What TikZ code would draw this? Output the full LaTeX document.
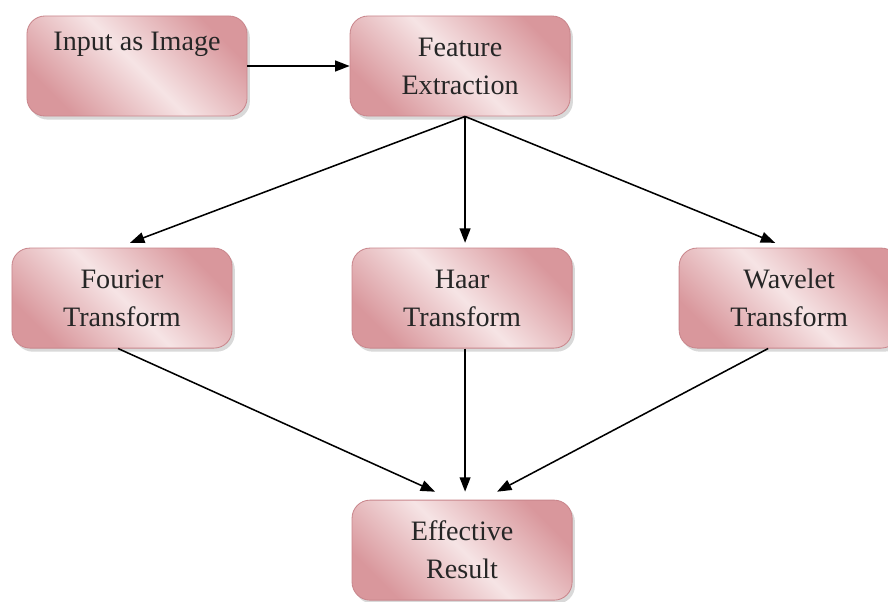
\documentclass[tikz,border=0pt]{standalone}
\usepackage{fontspec}
\setmainfont{Liberation Serif}
\usetikzlibrary{arrows.meta,positioning,shadows}

\definecolor{pinkdark}{HTML}{D9979C}
\definecolor{pinklight}{HTML}{F6E4E5}
\definecolor{pinkedge}{HTML}{C9868C}

\tikzset{
  block/.style={draw=pinkedge, line width=0.6pt, rounded corners=0.45cm,
    minimum width=5.5cm, minimum height=2.5cm, align=center,
    drop shadow={opacity=0.3, shadow xshift=0.7mm, shadow yshift=-0.9mm},
    top color=pinkdark, bottom color=pinkdark, middle color=pinklight, shading angle=-45,
    font=\fontsize{20}{27}\selectfont, text=black!85},
  flow/.style={-{Triangle[length=3.6mm,width=2.7mm]}, line width=1.1pt}
}

\begin{document}
\begin{tikzpicture}[x=0.025cm, y=-0.025cm, node distance=5.8cm]
  \useasboundingbox (0,0) rectangle (888,601);

        \node[block] (input) at (137,66) {Input as Image\\\strut};
        \node[block] (feat) [right of=input, node distance=8.075cm] {Feature\\Extraction};

        \node[block] (haar) [below of=feat, xshift=0.05cm] {Haar\\Transform};
        \node[block] (fourier) [left of=haar, node distance=8.5cm] {Fourier\\Transform};
        \node[block] (wavelet) [right of=haar, node distance=8.175cm] {Wavelet\\Transform};

        \node[block] (result) [below of=haar, node distance=6.3cm] {Effective\\Result};

        \coordinate (fsrc) at ([xshift=0.125cm]feat.south);

        \path[flow]
                 (input) edge (feat)
                 (fsrc) edge ([xshift=0.2cm, yshift=0.12cm]fourier.north)
                 (fsrc) edge ([yshift=0.12cm]haar.north -| fsrc)
                 (fsrc) edge ([xshift=-0.35cm, yshift=0.12cm]wavelet.north)
                 ([xshift=-0.1cm]fourier.south) edge ([xshift=-0.675cm, yshift=0.2cm]result.north)
                 (haar.south -| fsrc) edge ([yshift=0.2cm]result.north -| fsrc)
                 ([xshift=-0.525cm]wavelet.south) edge ([xshift=0.875cm, yshift=0.2cm]result.north)
                 ;
\end{tikzpicture}
\end{document}
